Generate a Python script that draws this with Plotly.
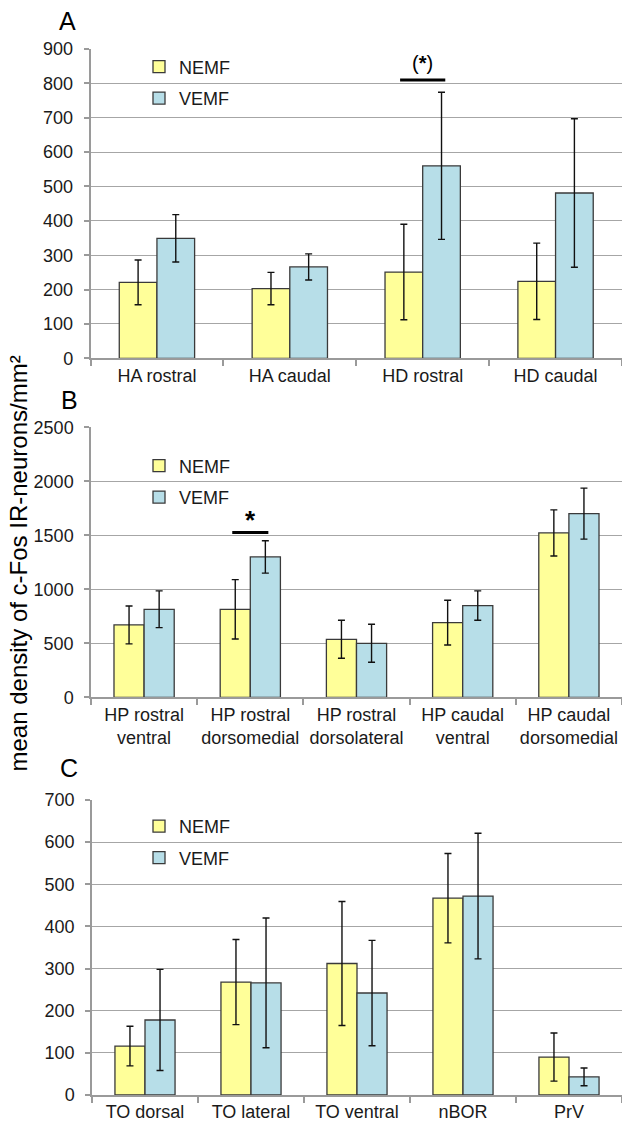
import plotly.graph_objects as go

# ---------------- data ----------------
cats_A = ["HA rostral", "HA caudal", "HD rostral", "HD caudal"]
nemf_A = [221, 203, 251, 224]
nemf_A_err = [65, 47, 139, 111]
vemf_A = [349, 266, 560, 481]
vemf_A_err = [69, 38, 214, 216]

cats_B = ["HP rostral<br>ventral", "HP rostral<br>dorsomedial", "HP rostral<br>dorsolateral",
          "HP caudal<br>ventral", "HP caudal<br>dorsomedial"]
nemf_B = [670, 815, 537, 691, 1522]
nemf_B_err = [175, 275, 176, 207, 213]
vemf_B = [815, 1300, 500, 849, 1701]
vemf_B_err = [170, 150, 176, 136, 236]

cats_C = ["TO dorsal", "TO lateral", "TO ventral", "nBOR", "PrV"]
nemf_C = [116, 268, 312, 467, 90]
nemf_C_err = [47, 101, 147, 106, 57]
vemf_C = [178, 266, 242, 472, 43]
vemf_C_err = [120, 154, 125, 149, 21]

yrange_A, ydtick_A = [0, 900], 100
yrange_B, ydtick_B = [0, 2500], 500
yrange_C, ydtick_C = [0, 700], 100

# significance markers: (panel, category index, y value of bar, label, label y)
sig_marks = [
    ("A", 2, 810, "(<b>*</b>)", 858),
    ("B", 1, 1525, "<b>*</b>", 1640),
]

# ---------------- style ----------------
FONT = "Arial, Liberation Sans, sans-serif"
YELLOW = "#FFFF99"
BLUE = "#B7DEE8"
EDGE = "#3a3a3a"
GRID = "#A6A6A6"
TXT = "#1a1a1a"
W, H = 622, 1125
FS = 18

fig = go.Figure()

panels = [
    ("A", cats_A, nemf_A, nemf_A_err, vemf_A, vemf_A_err, yrange_A, ydtick_A, "legend"),
    ("B", cats_B, nemf_B, nemf_B_err, vemf_B, vemf_B_err, yrange_B, ydtick_B, "legend2"),
    ("C", cats_C, nemf_C, nemf_C_err, vemf_C, vemf_C_err, yrange_C, ydtick_C, "legend3"),
]

# plot-area pixel geometry (top, bottom, left) per panel
geo = {"A": (49, 358.3, 90.5), "B": (427.3, 697.3, 91), "C": (800, 1095, 92)}
legend_center = {"A": 82.5, "B": 481.5, "C": 842}
label_pos = {"A": (67, 21), "B": (69, 400), "C": (69, 768)}

for i, (name, cats, n, ne, v, ve, yr, dt, leg) in enumerate(panels):
    ax = "" if i == 0 else str(i + 1)
    xa, ya = "x" + ax, "y" + ax
    for lbl, vals, errs, col in (("NEMF", n, ne, YELLOW), ("VEMF", v, ve, BLUE)):
        fig.add_trace(go.Bar(
            x=cats, y=vals, name=lbl, xaxis=xa, yaxis=ya,
            marker=dict(color=col, line=dict(color=EDGE, width=1.3)),
            error_y=dict(type="data", array=errs, visible=True, color="#111111",
                         thickness=1.4, width=3.5),
            legend=leg, legendgroup=name + lbl, showlegend=True,
        ))
    top, bot, left = geo[name]
    dom_y = [1 - bot / H, 1 - top / H]
    fig.layout["xaxis" + ax] = dict(
        domain=[left / W, 1.0], anchor=ya, type="category", automargin=False,
        showline=True, linecolor="#9A9A9A", linewidth=1.5, tickangle=0,
        ticks="outside", tickson="boundaries", ticklen=6, tickcolor="#9A9A9A", tickwidth=1.5,
        showgrid=False, tickfont=dict(family=FONT, size=FS, color=TXT),
    )
    fig.layout["yaxis" + ax] = dict(
        domain=dom_y, anchor=xa, range=yr, dtick=dt, tick0=0, automargin=False,
        showline=True, linecolor="#9A9A9A", linewidth=1.5,
        ticks="outside", ticklen=5, tickcolor="#9A9A9A", tickwidth=1.5,
        showgrid=True, gridcolor=GRID, gridwidth=1.3, zeroline=False,
        tickfont=dict(family=FONT, size=FS, color=TXT), ticklabelstandoff=7,
    )
    fig.layout[leg] = dict(
        x=139 / W, xanchor="left", y=1 - legend_center[name] / H, yanchor="middle",
        bgcolor="rgba(0,0,0,0)", font=dict(family=FONT, size=FS, color=TXT),
        tracegroupgap=5, traceorder="grouped",
    )
    lx, ly = label_pos[name]
    fig.add_annotation(x=lx / W, y=1 - ly / H, xref="paper", yref="paper", text=name,
                       showarrow=False, font=dict(family=FONT, size=25, color="#000000"),
                       xanchor="center", yanchor="middle")

panel_axes = {"A": ("x", "y"), "B": ("x2", "y2"), "C": ("x3", "y3")}
for pname, idx, yv, txt, ty in sig_marks:
    xr, yr_ = panel_axes[pname]
    fig.add_shape(type="line", xref=xr, yref=yr_, x0=idx - 0.17, x1=idx + 0.17, y0=yv, y1=yv,
                  line=dict(color="#000000", width=3))
    fig.add_annotation(x=idx, y=ty, xref=xr, yref=yr_, text=txt, showarrow=False,
                       font=dict(family=FONT, size=20 if pname == "A" else 26, color="#000000"),
                       xanchor="center", yanchor="middle")

fig.add_annotation(x=18 / W, y=1 - 563.5 / H, xref="paper", yref="paper",
                   text="mean density of c-Fos IR-neurons/mm²", textangle=-90,
                   showarrow=False, font=dict(family=FONT, size=24, color="#000000"),
                   xanchor="center", yanchor="middle")

fig.update_layout(
    width=W, height=H, margin=dict(l=0, r=0, t=0, b=0, autoexpand=False),
    paper_bgcolor="white", plot_bgcolor="white",
    barmode="group", bargap=0.433, bargroupgap=0,
    font=dict(family=FONT, color=TXT),
)

fig.write_html("out.html", config={"displayModeBar": False},
               post_script="document.body.style.margin='0px';document.body.style.padding='0px';")
